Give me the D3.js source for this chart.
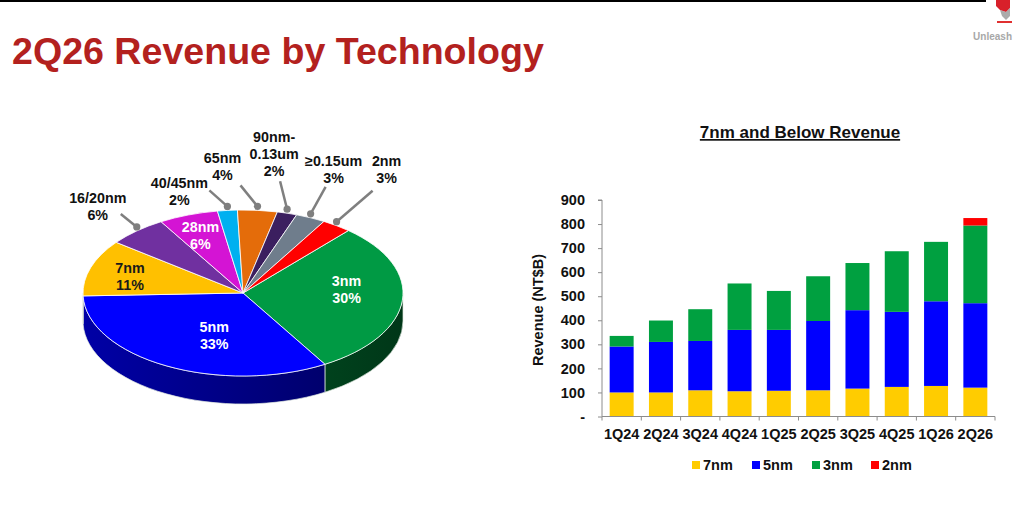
<!DOCTYPE html>
<html>
<head>
<meta charset="utf-8">
<script src="https://cdn.jsdelivr.net/npm/d3@7"></script>
<style>
  html, body { margin: 0; padding: 0; background: #fff; }
  svg { display: block; font-family: "Liberation Sans", Arial, sans-serif; }
</style>
</head>
<body>
<svg id="chart" width="1015" height="505"></svg>
<script>
// ---- pie data (2Q26 share by technology) ----
const pieNodes = ["3nm", "5nm", "7nm", "16/20nm", "28nm", "40/45nm", "65nm", "90nm-0.13um", "≥0.15um", "2nm"];
const pieShares = [30, 33, 11, 6, 6, 2, 4, 2, 3, 3];
const pieColors = ["#009A44", "#0000FF", "#FFC000", "#7030A0", "#D414D4", "#00B0F0", "#E46C0A", "#3B1F5F", "#6F7D8C", "#FF0000"];

// ---- bar data (7nm and below revenue, NT$B) ----
const quarters = ["1Q24", "2Q24", "3Q24", "4Q24", "1Q25", "2Q25", "3Q25", "4Q25", "1Q26", "2Q26"];
const rev7nm = [100, 100, 109, 105, 107, 109, 116, 123, 127, 120];
const rev5nm = [191, 210, 205, 255, 253, 288, 326, 312, 352, 351];
const rev3nm = [44, 89, 132, 193, 162, 186, 196, 252, 247, 323];
const rev2nm = [0, 0, 0, 0, 0, 0, 0, 0, 0, 31];
const barKeys = ["7nm", "5nm", "3nm", "2nm"];
const barColors = ["#FFCC00", "#0000FF", "#00A040", "#FF0000"];
const yTicks = [0, 100, 200, 300, 400, 500, 600, 700, 800, 900];

const svg = d3.select("#chart");
const defs = svg.append("defs");

// page frame + title
svg.append("line").attr("x1", 0).attr("x2", 986).attr("y1", 1).attr("y2", 1)
  .attr("stroke", "#000").attr("stroke-width", 2);
svg.append("text").attr("x", 12).attr("y", 64)
  .attr("font-size", 37.6).attr("font-weight", "bold").attr("fill", "#B3211E")
  .text("2Q26 Revenue by Technology");

// little logo in the corner
const logo = svg.append("g").attr("transform", "translate(994,0)");
logo.append("path").attr("d", "M2,0 L16,0 L16,8 L12,12 L6,10 L2,6 Z").attr("fill", "#D8202A");
logo.append("path").attr("d", "M6,10 L12,12 L16,8 L16,16 L12,20 L8,16 Z").attr("fill", "#888")
  .attr("opacity", 0.7);
logo.append("rect").attr("x", 3).attr("y", 21).attr("width", 15).attr("height", 2).attr("fill", "#E03030");
svg.append("text").attr("x", 1012).attr("y", 40).attr("text-anchor", "end")
  .attr("font-size", 10).attr("font-weight", "bold").attr("fill", "#A8A8A8").text("Unleash");

// ================= 3D pie =================
const cx = 243, cy = 293, rx = 160, ry = 83, depth = 28;
const k = ry / rx;
const pieData = pieNodes.map((n, i) => ({ name: n, value: pieShares[i], color: pieColors[i] }));
const toRad = d => d * Math.PI / 180;
const arcs = d3.pie().sort(null).value(d => d.value)
  .startAngle(toRad(41.2)).endAngle(toRad(41.2 + 360))(pieData);

const pieG = svg.append("g").attr("transform", `translate(${cx},${cy}) scale(1,${k})`);
const dl = depth / k;

// side walls (only the front half is visible)
const front0 = Math.PI / 2, front1 = 3 * Math.PI / 2;
arcs.forEach((a, i) => {
  const b0 = Math.max(a.startAngle, front0), b1 = Math.min(a.endAngle, front1);
  if (b1 <= b0) return;
  const gid = "side" + i;
  const base = d3.color(a.data.color);
  const grad = defs.append("linearGradient").attr("id", gid)
    .attr("gradientUnits", "userSpaceOnUse").attr("x1", -rx).attr("x2", rx).attr("y1", 0).attr("y2", 0);
  grad.append("stop").attr("offset", 0).attr("stop-color", base.darker(1.2));
  grad.append("stop").attr("offset", 1).attr("stop-color", base.darker(2.9));
  const p = d3.path();
  p.moveTo(rx * Math.sin(b0), -rx * Math.cos(b0));
  p.arc(0, 0, rx, b0 - Math.PI / 2, b1 - Math.PI / 2, false);
  p.lineTo(rx * Math.sin(b1), -rx * Math.cos(b1) + dl);
  p.arc(0, dl, rx, b1 - Math.PI / 2, b0 - Math.PI / 2, true);
  p.closePath();
  pieG.append("path").attr("d", p.toString()).attr("fill", `url(#${gid})`)
    .attr("stroke", "#dfe8df").attr("stroke-width", 0.7).attr("vector-effect", "non-scaling-stroke");
});

// top face
const arcGen = d3.arc().innerRadius(0).outerRadius(rx);
pieG.selectAll("path.top").data(arcs).join("path").attr("class", "top")
  .attr("d", arcGen).attr("fill", d => d.data.color)
  .attr("stroke", "#fff").attr("stroke-width", 0.8).attr("vector-effect", "non-scaling-stroke");

// point on the ellipse for a given angle and radius fraction
const onPie = (ang, f) => [cx + rx * f * Math.sin(ang), cy - ry * f * Math.cos(ang)];

// inside labels
const insideLabels = {
  "3nm":  { f: 0.65, dx: 0, dy: -8, fill: "#fff" },
  "5nm":  { f: 0.65, dx: 21, dy: -4, fill: "#fff" },
  "7nm":  { f: 0.65, dx: -14, dy: 0, fill: "#1a1a1a" },
  "28nm": { f: 0.65, dx: -7, dy: -6, fill: "#fff" }
};
// outside labels: label centre and leader end, relative to the dot on the rim
const outsideLabels = {
  "16/20nm":     { lines: ["16/20nm", "6%"], lx: -39, ly: -24, ex: -16, ey: -13 },
  "40/45nm":     { lines: ["40/45nm", "2%"], lx: -48, ly: -18, ex: -18, ey: -16 },
  "65nm":        { lines: ["65nm", "4%"], lx: -35, ly: -43, ex: -17, ey: -21 },
  "90nm-0.13um": { lines: ["90nm-", "0.13um", "2%"], lx: -13, ly: -67, ex: -7, ey: -28 },
  "≥0.15um":     { lines: ["≥0.15um", "3%"], lx: 23, ly: -48, ex: 15, ey: -27 },
  "2nm":         { lines: ["2nm", "3%"], lx: 50, ly: -56, ex: 36, ey: -31 }
};

const labelG = svg.append("g").attr("font-size", 14.3).attr("font-weight", "bold").attr("text-anchor", "middle");
arcs.forEach(a => {
  const mid = (a.startAngle + a.endAngle) / 2;
  const name = a.data.name;
  if (insideLabels[name]) {
    const o = insideLabels[name];
    const [x, y] = onPie(mid, o.f);
    const t = labelG.append("text").attr("fill", o.fill);
    [name, a.data.value + "%"].forEach((s, j) => {
      t.append("tspan").attr("x", x + o.dx).attr("y", y + o.dy - 4 + j * 17).text(s);
    });
  } else if (outsideLabels[name]) {
    const o = outsideLabels[name];
    const [x, y] = onPie(mid, 1.0);
    const dy = y - 4;
    labelG.append("line").attr("x1", x).attr("y1", dy).attr("x2", x + o.ex).attr("y2", dy + o.ey)
      .attr("stroke", "#7f7f7f").attr("stroke-width", 2.5);
    labelG.append("circle").attr("cx", x).attr("cy", dy).attr("r", 3.6).attr("fill", "#7f7f7f");
    const t = labelG.append("text").attr("fill", "#111");
    o.lines.forEach((s, j) => {
      t.append("tspan").attr("x", x + o.lx).attr("y", dy + o.ly + j * 17).text(s);
    });
  }
});

// ================= stacked bars =================
const plot = { left: 602, right: 995, top: 200, bottom: 416.5 };
const rows = quarters.map((q, i) => ({ q, "7nm": rev7nm[i], "5nm": rev5nm[i], "3nm": rev3nm[i], "2nm": rev2nm[i] }));
const stack = d3.stack().keys(barKeys)(rows);

const x = d3.scaleBand().domain(quarters).range([plot.left, plot.right])
  .paddingInner(0.39).paddingOuter(0.195);
const y = d3.scaleLinear().domain([0, 900]).range([plot.bottom, plot.top]);
const color = d3.scaleOrdinal().domain(barKeys).range(barColors);

const barG = svg.append("g");
barG.selectAll("g").data(stack).join("g").attr("fill", d => color(d.key))
  .selectAll("rect").data(d => d).join("rect")
  .attr("x", d => x(d.data.q)).attr("width", x.bandwidth())
  .attr("y", d => y(d[1])).attr("height", d => y(d[0]) - y(d[1]));

// y axis
const yAxis = svg.append("g").attr("transform", `translate(${plot.left},0)`)
  .call(d3.axisLeft(y).tickValues(yTicks).tickSize(4).tickPadding(13)
    .tickFormat(v => v === 0 ? "-" : d3.format("d")(v)));
yAxis.select(".domain").attr("stroke", "#8c8c8c").attr("d", `M-4,${plot.top}H0V${plot.bottom}`);
yAxis.selectAll(".tick line").attr("stroke", "#8c8c8c");
yAxis.selectAll(".tick text").attr("font-size", 14.5).attr("font-weight", "bold")
  .attr("fill", "#111").attr("font-family", "Liberation Sans, Arial, sans-serif");

// x axis (ticks between categories)
const xAxis = svg.append("g");
xAxis.append("line").attr("x1", plot.left).attr("x2", plot.right)
  .attr("y1", plot.bottom).attr("y2", plot.bottom).attr("stroke", "#8c8c8c");
d3.range(quarters.length + 1).forEach(i => {
  const xi = plot.left + i * x.step();
  xAxis.append("line").attr("x1", xi).attr("x2", xi).attr("y1", plot.bottom).attr("y2", plot.bottom + 4)
    .attr("stroke", "#8c8c8c");
});
xAxis.selectAll("text").data(quarters).join("text")
  .attr("x", d => x(d) + x.bandwidth() / 2).attr("y", 439)
  .attr("text-anchor", "middle").attr("font-size", 14.5).attr("font-weight", "bold").attr("fill", "#111")
  .text(d => d);

// y title
svg.append("text").attr("transform", "translate(543,310) rotate(-90)")
  .attr("text-anchor", "middle").attr("font-size", 14.5).attr("font-weight", "bold").attr("fill", "#111")
  .text("Revenue (NT$B)");

// chart title (underlined)
svg.append("text").attr("x", 800).attr("y", 138).attr("text-anchor", "middle")
  .attr("font-size", 17).attr("font-weight", "bold").attr("fill", "#111")
  .attr("text-decoration", "underline").text("7nm and Below Revenue");

// legend
const legendX = [692, 752, 812, 871];
const lg = svg.append("g");
barKeys.forEach((key, i) => {
  lg.append("rect").attr("x", legendX[i]).attr("y", 461).attr("width", 8).attr("height", 8).attr("fill", color(key));
  lg.append("text").attr("x", legendX[i] + 11).attr("y", 470).attr("font-size", 14.5)
    .attr("font-weight", "bold").attr("fill", "#111").text(key);
});
</script>
</body>
</html>
